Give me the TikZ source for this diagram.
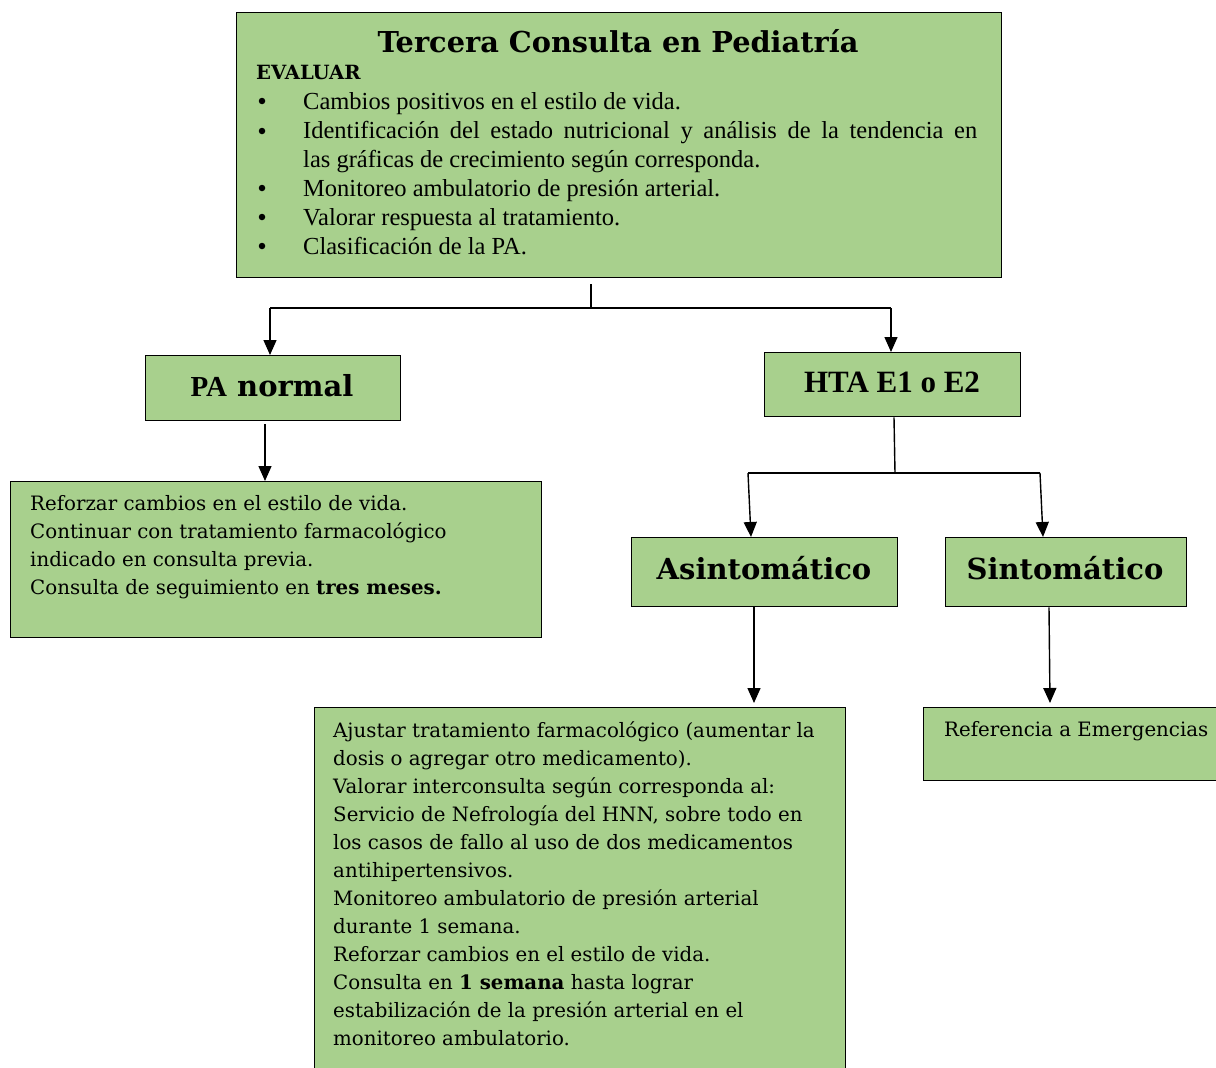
\documentclass[tikz,border=0pt]{standalone}
\usepackage{fontspec}
\setmainfont{DejaVu Serif}
\newfontfamily\tnr{Liberation Serif}
\usetikzlibrary{arrows.meta}
\definecolor{boxgreen}{HTML}{A8D08D}
\tikzset{
  box/.style={draw=black, line width=1.4pt, fill=boxgreen, inner sep=0pt, anchor=north west},
  txt/.style={inner sep=0pt, anchor=north west, align=left, font=\fontsize{19.8}{28}\selectfont},
  bul/.style={circle, fill=black, inner sep=0pt, minimum size=6.5pt},
  conn/.style={draw=black, line width=1.4pt},
  arr/.style={conn, -{Triangle[length=15pt,width=13pt]}}
}
\begin{document}
\begin{tikzpicture}[x=1pt,y=-1pt]
\useasboundingbox (0,0) rectangle (1216,1068);
% boxes
\node[box, minimum width=765pt, minimum height=265pt] (top) at (236,12) {};
\node[box, minimum width=255pt, minimum height=65pt] (pan) at (145,355) {};
\node[box, minimum width=256pt, minimum height=64pt] (hta) at (764,352) {};
\node[box, minimum width=531pt, minimum height=156pt] (lbox) at (10,481) {};
\node[box, minimum width=266pt, minimum height=69pt] (asin) at (631,537) {};
\node[box, minimum width=241pt, minimum height=69pt] (sint) at (945,537) {};
\node[box, minimum width=531pt, minimum height=380pt] (bbox) at (314,707) {};
\node[box, minimum width=310pt, minimum height=73pt] (rbox) at (923,707) {};
% top box text
\node[inner sep=0pt, font=\fontsize{28.8}{32}\selectfont\bfseries] (title) at (618,41) {Tercera Consulta en Pediatría};
\node[inner sep=0pt, anchor=west, font=\fontsize{19.6}{22}\selectfont\bfseries] (eval) at (256,72) {EVALUAR};
\node[txt, font=\tnr\fontsize{24.5}{29.1}\selectfont] (list) at (303,92) {Cambios positivos en el estilo de vida.\\
\hbox to 674pt{Identificación del estado nutricional y análisis de la tendencia en}\\
las gráficas de crecimiento según corresponda.\\
Monitoreo ambulatorio de presión arterial.\\
Valorar respuesta al tratamiento.\\
Clasificación de la PA.};
\foreach \yy/\nm in {101/b1,131/b2,188/b3,217/b4,246/b5}
  \node[bul] (\nm) at (262,\yy) {};
% headings
\node[inner sep=0pt, font=\fontsize{29}{32}\selectfont\bfseries] (pant) at (272,386) {{\tnr PA} normal};
\node[inner sep=0pt, font=\tnr\fontsize{31}{34}\selectfont\bfseries] (htat) at (892,382) {HTA E1 o E2};
\node[inner sep=0pt, font=\fontsize{29}{32}\selectfont\bfseries] (asint) at (764,568) {Asintomático};
\node[inner sep=0pt, font=\fontsize{29}{32}\selectfont\bfseries] (sintt) at (1065,568) {Sintomático};
% body texts
\node[txt] (ltxt) at (30,495) {Reforzar cambios en el estilo de vida.\\
Continuar con tratamiento farmacológico\\
indicado en consulta previa.\\
Consulta de seguimiento en \textbf{tres meses.}};
\node[txt] (btxt) at (333,721) {Ajustar tratamiento farmacológico (aumentar la\\
dosis o agregar otro medicamento).\\
Valorar interconsulta según corresponda al:\\
Servicio de Nefrología del HNN, sobre todo en\\
los casos de fallo al uso de dos medicamentos\\
antihipertensivos.\\
Monitoreo ambulatorio de presión arterial\\
durante 1 semana.\\
Reforzar cambios en el estilo de vida.\\
Consulta en \textbf{1 semana} hasta lograr\\
estabilización de la presión arterial en el\\
monitoreo ambulatorio.};
\node[txt] (rtxt) at (944,721) {Referencia a Emergencias};
% connectors
\coordinate (j1) at (591,308);
\coordinate (j1l) at (270,308);
\coordinate (j1r) at (891,308);
\draw[conn] ([yshift=-6pt]top.south -| j1) -- (j1);
\draw[conn] (j1l) -- (j1r);
\draw[arr] (j1l) -- (pan.north -| j1l);
\draw[arr] (j1r) -- (hta.north -| j1r);
\coordinate (pl) at (265,424);
\draw[arr] (pl) -- (lbox.north -| pl);
\coordinate (j2) at (895,473);
\coordinate (j2l) at (748,473);
\coordinate (j2r) at (1040,473);
\draw[conn] (hta.south -| 894,0) -- (j2);
\draw[conn] (j2l) -- (j2r);
\draw[arr] (j2l) -- ([xshift=3pt]asin.north -| j2l);
\draw[arr] (j2r) -- ([xshift=3pt]sint.north -| j2r);
\coordinate (al) at (754,703);
\draw[arr] (asin.south -| al) -- (al);
\coordinate (sl) at (1050,703);
\draw[arr] ([xshift=-1pt]sint.south -| sl) -- (sl);
\end{tikzpicture}
\end{document}
